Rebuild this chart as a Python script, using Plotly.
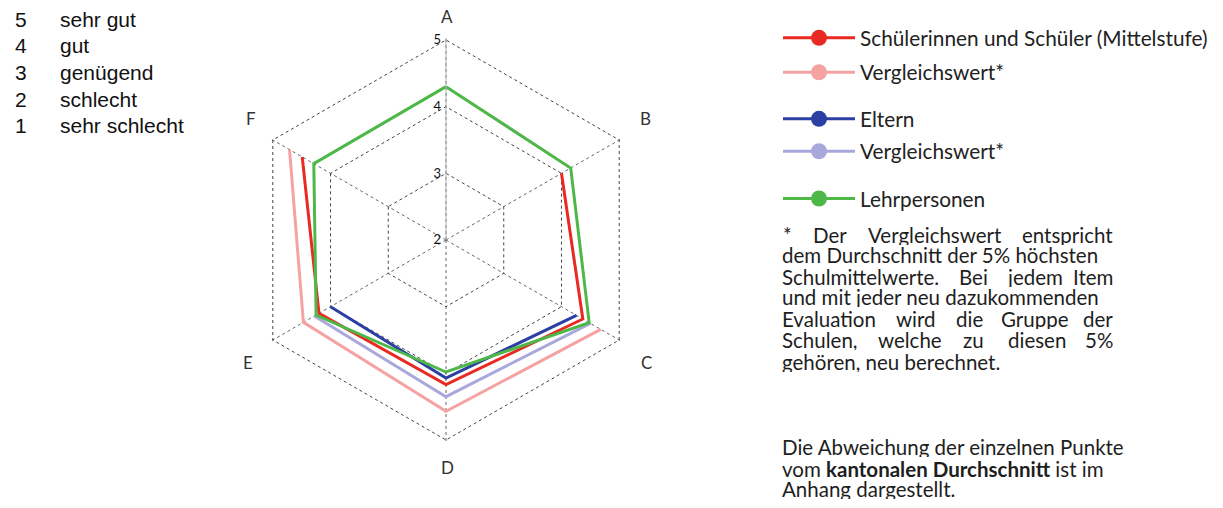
import plotly.graph_objects as go

# ---------------- data ----------------
categories = ["A", "B", "C", "D", "E", "F"]
schueler = [None, 4.0, 4.37, 4.17, 4.2, 4.49]
schueler_vgl = [None, None, 4.68, 4.57, 4.47, 4.71]
eltern = [None, None, 4.26, 4.07, 4.0, None]
eltern_vgl = [None, None, 4.5, 4.35, 4.28, None]
lehrpersonen = [4.3, 4.16, 4.48, 3.98, 4.25, 4.29]

series_names = ["Schülerinnen und Schüler (Mittelstufe)", "Vergleichswert*",
                "Eltern", "Vergleichswert*", "Lehrpersonen"]
series_values = [schueler, schueler_vgl, eltern, eltern_vgl, lehrpersonen]
series_colors = ["#e82a23", "#f5a2a2", "#2c3fa3", "#a9a8dd", "#4db848"]

radial_ticks = [2, 3, 4, 5]
r_min, r_max, r_pad = 2, 5, 0.03
scale_numbers = ["5", "4", "3", "2", "1"]
scale_labels = ["sehr gut", "gut", "genügend", "schlecht", "sehr schlecht"]

# page is 1223x508; the html body has an 8px margin
OFF = 8
W, H = 1223 - 2 * OFF, 508 - 2 * OFF
FONT = "Lato"


def px(x):
    return (x - OFF) / W


def py(y):
    return 1 - (y - OFF) / H


fig = go.Figure()


def closed(vals):
    return list(vals) + [vals[0]]


draw_order = [1, 3, 2, 0, 4]
for i in draw_order:
    fig.add_trace(go.Scatterpolar(
        r=closed(series_values[i]), theta=closed(categories),
        mode="lines", line=dict(color=series_colors[i], width=3),
        connectgaps=False, showlegend=False, hoverinfo="skip"))

# legend entries (one legend per entry for exact vertical placement)
legend_y = [38.3, 72.7, 119.3, 151.7, 199]
for i, name in enumerate(series_names):
    key = "legend" if i == 0 else f"legend{i+1}"
    fig.add_trace(go.Scatterpolar(
        r=[None], theta=[None], name=name, mode="lines+markers",
        line=dict(color=series_colors[i], width=3),
        marker=dict(color=series_colors[i], size=16),
        legend=key, showlegend=True))
    fig.update_layout({key: dict(
        x=px(778), xanchor="left", y=py(legend_y[i]), yanchor="middle",
        bgcolor="rgba(0,0,0,0)", borderwidth=0, itemwidth=72,
        font=dict(family=FONT, size=20.8, color="#222"))})

# polar area: r=5 vertex sits 200 px from the centre
cx, cy, R5 = 446, 240, 200
Rd = R5 * (r_max + r_pad - r_min) / (r_max - r_min)
fig.update_layout(
    width=W, height=H, paper_bgcolor="white", plot_bgcolor="white",
    margin=dict(l=0, r=0, t=0, b=0),
    polar=dict(
        domain=dict(x=[px(cx - Rd), px(cx + Rd)], y=[py(cy + Rd), py(cy - Rd)]),
        bgcolor="white", gridshape="linear",
        radialaxis=dict(range=[r_min, r_max + r_pad], tickvals=radial_ticks,
                        angle=90, tickangle=90,
                        showline=True, linecolor="#b0b0b0", linewidth=1,
                        gridcolor="#444", griddash="dot", gridwidth=1,
                        ticks="", side="counterclockwise",
                        tickfont=dict(family=FONT, size=13, color="#111")),
        angularaxis=dict(rotation=90, direction="clockwise",
                         gridcolor="#666", griddash="dot", gridwidth=1,
                         showline=False, ticks="", showticklabels=False),
    ),
)

# category labels around the hexagon
cat_pos = [(447, 15.5), (645, 118), (646, 362), (447, 467), (248, 362), (251, 118)]
for c, (lx, ly) in zip(categories, cat_pos):
    fig.add_annotation(x=px(lx), y=py(ly), xref="paper", yref="paper", text=c,
                       showarrow=False, xanchor="center", yanchor="middle", height=14,
                       font=dict(family=FONT, size=17, color="#333"))

# scale explanation top-left
for k, (num, lab) in enumerate(zip(scale_numbers, scale_labels)):
    yy = 19.2 + k * 26.6
    fig.add_annotation(x=px(13), y=py(yy), xref="paper", yref="paper",
                       text=num, showarrow=False, xanchor="left", yanchor="middle",
                       font=dict(family="Liberation Sans, Arial", size=21, color="#111"))
    fig.add_annotation(x=px(58), y=py(yy), xref="paper", yref="paper",
                       text=lab, showarrow=False, xanchor="left", yanchor="middle",
                       font=dict(family="Liberation Sans, Arial", size=21, color="#111"))

# footnote text (strongly justified lines emulated word by word)
TXT = dict(family=FONT, size=20.5, color="#1e1e1e")
lines = [
    (235, [("*", 781, 789), ("Der", 815, 845), ("Vergleichswert", 870, 1000), ("entspricht", 1025, 1115)]),
    (255, [("dem Durchschnitt der 5% höchsten", 780, None)]),
    (276.5, [("Schulmittelwerte.", 780, 927), ("Bei", 960, 987), ("jedem", 1010, 1060), ("Item", 1072, 1115)]),
    (297, [("und mit jeder neu dazukommenden", 780, None)]),
    (318.5, [("Evaluation", 780, 877), ("wird", 897, 935), ("die", 955, 983), ("Gruppe", 1005, 1065), ("der", 1085, 1115)]),
    (340, [("Schulen,", 780, 857), ("welche", 882, 938), ("zu", 963, 985), ("diesen", 1010, 1063), ("5%", 1088, 1115)]),
    (361.5, [("gehören, neu berechnet.", 780, None)]),
    (446.5, [("Die Abweichung der einzelnen Punkte", 780, None)]),
    (468.5, [("vom <b>kantonalen Durchschnitt</b> ist im", 780, None)]),
    (489, [("Anhang dargestellt.", 780, None)]),
]
for yy, words in lines:
    n = len(words)
    for j, (w, x0, x1) in enumerate(words):
        if j == 0:
            xa, xp = "left", x0
        elif j == n - 1:
            xa, xp = "right", x1
        else:
            xa, xp = "center", (x0 + x1) / 2
        fig.add_annotation(x=px(xp), y=py(yy), xref="paper", yref="paper",
                           text=w, showarrow=False, xanchor=xa, yanchor="middle",
                           height=20, font=TXT)

fig.write_html("out.html")
